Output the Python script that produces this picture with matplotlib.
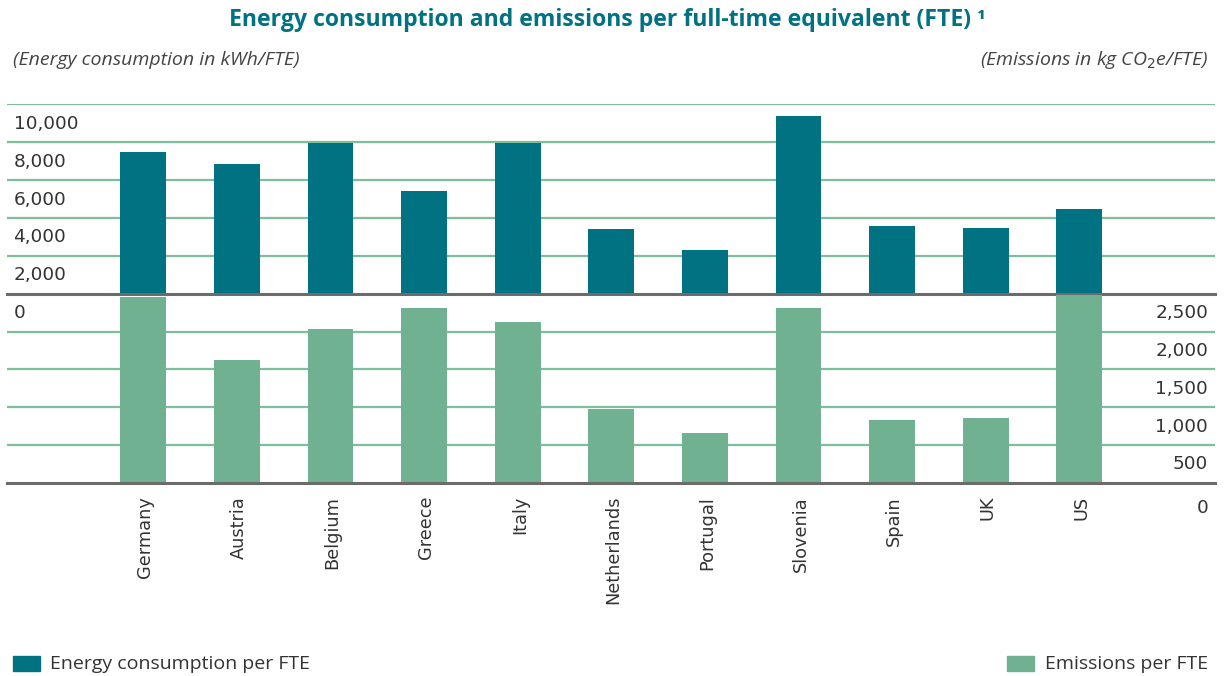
import matplotlib
matplotlib.use("Agg")
import matplotlib.pyplot as plt
from matplotlib.patches import Rectangle

countries = ["Germany", "Austria", "Belgium", "Greece", "Italy", "Netherlands",
             "Portugal", "Slovenia", "Spain", "UK", "US"]
energy = [7480, 6840, 7950, 5420, 7950, 3410, 2310, 9380, 3570, 3470, 4470]
emissions = [2456, 1623, 2033, 2311, 2126, 975, 657, 2311, 829, 856, 2485]

energy_ticks = [0, 2000, 4000, 6000, 8000, 10000]
emission_ticks = [0, 500, 1000, 1500, 2000, 2500]

TEAL = "#007282"
GREEN = "#6fb191"
GRID = "#7dbf9a"
BASE = "#6b6b6b"
TXT = "#333333"

W, H = 1231, 676
fig = plt.figure(figsize=(W / 100, H / 100), dpi=100)

left = 7.3 / W
width = (1215 - 7.3) / W
ax_top = fig.add_axes([left, 1 - 293.7 / H, width, (293.7 - 104.3) / H])
ax_bot = fig.add_axes([left, 1 - 482.7 / H, width, (482.7 - 293.7) / H])

x = list(range(len(countries)))
xlim = (-1.453, 11.45)

for ax in (ax_top, ax_bot):
    ax.set_xlim(*xlim)
    for s in ax.spines.values():
        s.set_visible(False)
    ax.set_xticks([])
    ax.set_yticks([])
    ax.patch.set_alpha(0)

# top panel
ax_top.set_ylim(0, 10000)
for t in energy_ticks[1:]:
    ax_top.axhline(t, color=GRID, lw=1.6, zorder=1)
ax_top.bar(x, energy, width=0.49, color=TEAL, zorder=2)
ax_top.axhline(0, color=BASE, lw=2.2, zorder=3, clip_on=False)

# bottom panel
ax_bot.set_ylim(0, 2500)
for t in emission_ticks[1:-1]:
    ax_bot.axhline(t, color=GRID, lw=1.6, zorder=1)
ax_bot.bar(x, emissions, width=0.49, color=GREEN, zorder=2)
ax_bot.axhline(0, color=BASE, lw=2.2, zorder=3, clip_on=False)

tick_font = dict(family="DejaVu Sans", fontsize=13.3, color=TXT)

for t in energy_ticks:
    ax_top.annotate(f"{t:,}", xy=(0, t), xycoords=ax_top.get_yaxis_transform(),
                    xytext=(4.5, -14), textcoords="offset points",
                    ha="left", va="center", **tick_font)

for t in emission_ticks:
    off = -18.5 if t == 0 else -14
    ax_bot.annotate(f"{t:,}", xy=(1, t), xycoords=ax_bot.get_yaxis_transform(),
                    xytext=(-5, off), textcoords="offset points",
                    ha="right", va="center", **tick_font)

xl_font = dict(family="DejaVu Sans", fontsize=12.8, color=TXT)
for xi, name in zip(x, countries):
    ax_bot.annotate(name, xy=(xi, 0), xycoords=ax_bot.get_xaxis_transform(),
                    xytext=(1.5, -9.5), textcoords="offset points",
                    rotation=90, ha="center", va="top", **xl_font)

# title and subtitles
fig.text(607 / W, 1 - 20 / H, "Energy consumption and emissions per full-time equivalent (FTE) \u00b9",
         ha="center", va="center", fontsize=16.6, fontweight="bold", color=TEAL,
         family="Open Sans")
fig.text(13 / W, 1 - 60 / H, "(Energy consumption in kWh/FTE)", ha="left", va="center",
         fontsize=14, style="italic", color="#444444", family="Open Sans")
fig.text(1208 / W, 1 - 60 / H, "(Emissions in kg CO$_2$e/FTE)", ha="right", va="center",
         fontsize=14, style="italic", color="#444444", family="Open Sans")

# legends
fig.patches.append(Rectangle((13 / W, 1 - 671 / H), 27 / W, 15 / H, transform=fig.transFigure,
                             color=TEAL))
fig.text(50 / W, 1 - 664 / H, "Energy consumption per FTE", ha="left", va="center",
         fontsize=14, color=TXT, family="Open Sans")
fig.patches.append(Rectangle((1007 / W, 1 - 671 / H), 27 / W, 15 / H, transform=fig.transFigure,
                             color=GREEN))
fig.text(1208 / W, 1 - 664 / H, "Emissions per FTE", ha="right", va="center",
         fontsize=14, color=TXT, family="Open Sans")

fig.savefig("out.png", dpi=100)
